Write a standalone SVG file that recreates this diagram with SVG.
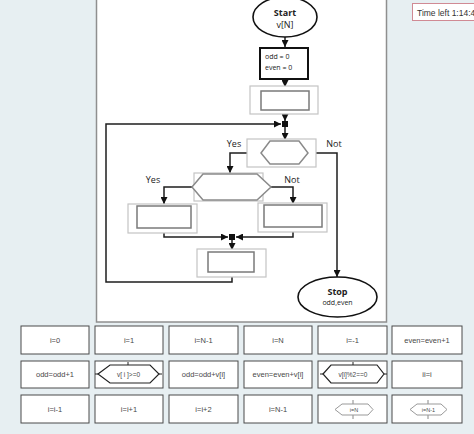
<svg xmlns="http://www.w3.org/2000/svg" width="474" height="434" viewBox="0 0 474 434">
<defs>
<style>
.bg{fill:#e7eff2}
.panel{fill:#fff;stroke:#8f8f8f;stroke-width:1.5}
.gbox{fill:#fff;stroke:#c4c4c4;stroke-width:1.2}
.ibox{fill:#fff;stroke:#7a7a7a;stroke-width:1.5}
.ghex{fill:#fff;stroke:#8a8a8a;stroke-width:1.5}
.con{fill:none;stroke:#1e1e1e;stroke-width:1.5}
.pal{fill:#fff;stroke:#4a4a4a;stroke-width:1}
.t{font-family:"Liberation Sans",Arial,sans-serif;fill:#484848;text-anchor:middle}
.f{font-family:"Open Sans","Liberation Sans",sans-serif;fill:#222}
.phex{fill:#fff;stroke:#222;stroke-width:1.2}
.phexg{fill:#fff;stroke:#999;stroke-width:1}
</style>
<marker id="ah" viewBox="0 0 10 10" refX="10" refY="5" markerWidth="7" markerHeight="7" markerUnits="userSpaceOnUse" orient="auto">
<path d="M0,0 L10,5 L0,10 z" fill="#111"/>
</marker>
</defs>
<rect class="bg" x="0" y="0" width="474" height="434"/>
<rect class="panel" x="96.5" y="-5" width="290" height="327"/>
<g id="timer">
<rect x="412.5" y="3.5" width="70" height="17" fill="#fff" stroke="#d08a94" stroke-width="1"/>
<text x="417" y="15.5" font-family="'Liberation Sans',Arial,sans-serif" font-size="8.5" fill="#333">Time left 1:14:4</text>
</g>
<g id="connectors">
<path class="con" d="M285,37 V47" marker-end="url(#ah)"/>
<path class="con" d="M285,79 V87" marker-end="url(#ah)"/>
<path class="con" d="M285,114 V121" marker-end="url(#ah)"/>
<path class="con" d="M285,126 V140" marker-end="url(#ah)"/>
<path class="con" d="M232,272 V282 H106 V124 H281" marker-end="url(#ah)"/>
<path class="con" d="M261,153 H230 V173" marker-end="url(#ah)"/>
<path class="con" d="M308,153 H337 V277" marker-end="url(#ah)"/>
<path class="con" d="M192,187 H164 V204" marker-end="url(#ah)"/>
<path class="con" d="M271,187 H293 V204" marker-end="url(#ah)"/>
<path class="con" d="M164,228 V237 H228" marker-end="url(#ah)"/>
<path class="con" d="M293,227 V237 H236" marker-end="url(#ah)"/>
<path class="con" d="M232,240 V250" marker-end="url(#ah)"/>
<rect x="282" y="121" width="6" height="6" fill="#111"/>
<rect x="229" y="234" width="6" height="6" fill="#111"/>
</g>
<g id="start">
<ellipse cx="285" cy="17" rx="32" ry="20" fill="#fff" stroke="#111" stroke-width="1.6"/>
<text class="f" x="285" y="16" font-size="9" font-weight="bold" text-anchor="middle">Start</text>
<text class="f" x="285" y="28" font-size="9" text-anchor="middle" fill="#444">v[N]</text>
</g>
<g id="init">
<rect x="260" y="48" width="48" height="31" fill="#fff" stroke="#111" stroke-width="2"/>
<text class="f" x="265" y="59" font-size="7">odd = 0</text>
<text class="f" x="265" y="70" font-size="7">even = 0</text>
</g>
<g id="box1">
<rect class="gbox" x="250" y="86" width="68" height="28"/>
<rect class="ibox" x="261" y="91" width="48" height="19"/>
</g>
<g id="cond1">
<rect class="gbox" x="247" y="139" width="69" height="28"/>
<polygon class="ghex" points="261,153 270,141 299,141 308,153 299,164 270,164"/>
<text class="f" x="234" y="147" font-size="9" text-anchor="middle" fill="#333">Yes</text>
<text class="f" x="334" y="147" font-size="9" text-anchor="middle" fill="#333">Not</text>
</g>
<g id="cond2">
<rect class="gbox" x="194" y="173" width="69" height="28"/>
<polygon class="ghex" points="192,187 203,174 257,174 271,187 257,200 203,200" stroke="#555"/>
<text class="f" x="153" y="183" font-size="9" text-anchor="middle" fill="#333">Yes</text>
<text class="f" x="292" y="183" font-size="9" text-anchor="middle" fill="#333">Not</text>
</g>
<g id="boxL">
<rect class="gbox" x="128" y="204" width="69" height="29"/>
<rect class="ibox" x="137" y="206" width="54" height="22"/>
</g>
<g id="boxR">
<rect class="gbox" x="258" y="203" width="69" height="29"/>
<rect class="ibox" x="264" y="205" width="58" height="22"/>
</g>
<g id="box3">
<rect class="gbox" x="197" y="249" width="69" height="28"/>
<rect class="ibox" x="208" y="252" width="46" height="20"/>
</g>
<g id="stop">
<ellipse cx="337.5" cy="297" rx="39.5" ry="20" fill="#fff" stroke="#111" stroke-width="1.6"/>
<text class="f" x="337.5" y="295" font-size="9" font-weight="bold" text-anchor="middle">Stop</text>
<text class="f" x="337.5" y="305" font-size="7" text-anchor="middle" fill="#444">odd,even</text>
</g>
<g id="palette">
<g id="p-r1c1"><rect class="pal" x="21" y="326" width="68" height="28"/><text class="t" x="55" y="342.5" font-size="7.5">i=0</text></g>
<g id="p-r1c2"><rect class="pal" x="95" y="326" width="68" height="28"/><text class="t" x="129" y="342.5" font-size="7.5">i=1</text></g>
<g id="p-r1c3"><rect class="pal" x="169" y="326" width="69" height="28"/><text class="t" x="203.5" y="342.5" font-size="7.5">i=N-1</text></g>
<g id="p-r1c4"><rect class="pal" x="244" y="326" width="68" height="28"/><text class="t" x="278" y="342.5" font-size="7.5">i=N</text></g>
<g id="p-r1c5"><rect class="pal" x="318" y="326" width="69" height="28"/><text class="t" x="352.5" y="342.5" font-size="7.5">i=-1</text></g>
<g id="p-r1c6"><rect class="pal" x="392" y="326" width="70" height="28"/><text class="t" x="427" y="342.5" font-size="7.5">even=even+1</text></g>
<g id="p-r2c1"><rect class="pal" x="21" y="361" width="68" height="27"/><text class="t" x="55" y="377" font-size="7.5">odd=odd+1</text></g>
<g id="p-r2c2"><rect class="pal" x="95" y="361" width="68" height="27"/>
<path d="M95,374 H98 M159,374 H162 M128,362 V365" stroke="#222" stroke-width="1"/>
<polygon class="phex" points="98,374 110,365 150,365 159,374 150,383 110,383"/>
<text class="t" x="128.5" y="376.5" font-size="6.5">v[ i ]&gt;=0</text></g>
<g id="p-r2c3"><rect class="pal" x="169" y="361" width="69" height="27"/><text class="t" x="203.5" y="377" font-size="7.5">odd=odd+v[i]</text></g>
<g id="p-r2c4"><rect class="pal" x="244" y="361" width="68" height="27"/><text class="t" x="278" y="377" font-size="7.5">even=even+v[i]</text></g>
<g id="p-r2c5"><rect class="pal" x="318" y="361" width="69" height="27"/>
<path d="M320,374 H323 M384,374 H387 M353,362 V365" stroke="#222" stroke-width="1"/>
<polygon class="phex" points="323,374 331,365 377,365 384,374 377,383 331,383"/>
<text class="t" x="353" y="376.5" font-size="6.5">v[i]%2==0</text></g>
<g id="p-r2c6"><rect class="pal" x="392" y="361" width="70" height="27"/><text class="t" x="427" y="377" font-size="7.5">ii=i</text></g>
<g id="p-r3c1"><rect class="pal" x="21" y="395" width="68" height="28"/><text class="t" x="55" y="411.5" font-size="7.5">i=i-1</text></g>
<g id="p-r3c2"><rect class="pal" x="95" y="395" width="68" height="28"/><text class="t" x="129" y="411.5" font-size="7.5">i=i+1</text></g>
<g id="p-r3c3"><rect class="pal" x="169" y="395" width="69" height="28"/><text class="t" x="203.5" y="411.5" font-size="7.5">i=i+2</text></g>
<g id="p-r3c4"><rect class="pal" x="244" y="395" width="68" height="28"/><text class="t" x="278" y="411.5" font-size="7.5">i=N-1</text></g>
<g id="p-r3c5"><rect class="pal" x="318" y="395" width="69" height="28"/>
<path d="M353,400 V404 M353,415 V419" stroke="#888" stroke-width="1"/>
<polygon class="phexg" points="335,409.5 342,404 368,404 373,409.5 368,415 342,415"/>
<text class="t" x="354" y="411.5" font-size="5.5" fill="#555">i=N</text></g>
<g id="p-r3c6"><rect class="pal" x="392" y="395" width="70" height="28"/>
<path d="M428,400 V404 M428,415 V419" stroke="#888" stroke-width="1"/>
<polygon class="phexg" points="410,409.5 417,404 441,404 447,409.5 441,415 417,415"/>
<text class="t" x="428.5" y="411.5" font-size="5.5" fill="#555">i=N-1</text></g>
</g>
</svg>
